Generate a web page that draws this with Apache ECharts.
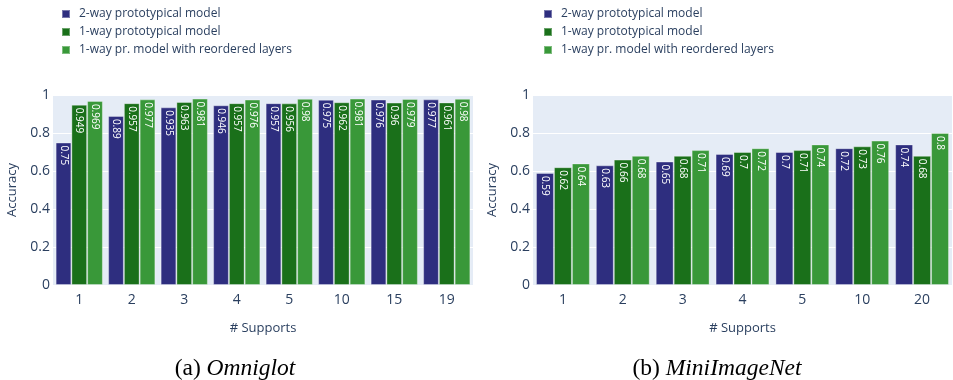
<!DOCTYPE html>
<html>
<head>
<meta charset="utf-8">
<script src="https://cdn.jsdelivr.net/npm/echarts@6/dist/echarts.min.js"></script>
<style>
  html, body { margin: 0; padding: 0; background: #fff; }
  #chart { width: 953px; height: 380px; }
</style>
</head>
<body>
<div id="chart"></div>
<script>
// Series names
const seriesNames = ['2-way prototypical model', '1-way prototypical model', '1-way pr. model with reordered layers'];

// Omniglot: accuracy by number of supports
const omniCategories = ['1', '2', '3', '4', '5', '10', '15', '19'];
const omniTwoWay = [0.75, 0.89, 0.935, 0.946, 0.957, 0.975, 0.976, 0.977];
const omniOneWay = [0.949, 0.957, 0.963, 0.957, 0.956, 0.962, 0.96, 0.961];
const omniReordered = [0.969, 0.977, 0.981, 0.976, 0.98, 0.981, 0.979, 0.98];

// MiniImageNet: accuracy by number of supports
const miniCategories = ['1', '2', '3', '4', '5', '10', '20'];
const miniTwoWay = [0.59, 0.63, 0.65, 0.69, 0.7, 0.72, 0.74];
const miniOneWay = [0.62, 0.66, 0.68, 0.7, 0.71, 0.73, 0.68];
const miniReordered = [0.64, 0.68, 0.71, 0.72, 0.74, 0.76, 0.8];

const colors = ['#2e2e7f', '#1a701a', '#399839'];
const textColor = '#2a3f5f';
const font = '"Open Sans", "Noto Sans", sans-serif';
const serif = '"Liberation Serif", "Times New Roman", serif';

const chart = echarts.init(document.getElementById('chart'), null, { renderer: 'canvas' });

function makeLegend(left) {
  return {
    left: left, top: 0, orient: 'vertical',
    icon: 'rect', itemWidth: 8, itemHeight: 8, itemGap: 0,
    data: seriesNames,
    textStyle: { color: textColor, fontSize: 12, fontFamily: font, lineHeight: 18, padding: [0, 0, 0, 4] }
  };
}

function makeX(gridIndex, cats) {
  return {
    type: 'category', gridIndex: gridIndex, data: cats,
    name: '# Supports', nameLocation: 'middle', nameGap: 37,
    nameTextStyle: { color: textColor, fontSize: 13, fontFamily: font },
    axisLine: { show: false }, axisTick: { show: false },
    axisLabel: { color: textColor, fontSize: 14, fontFamily: font, margin: 8 },
    splitLine: { show: false }
  };
}

function makeY(gridIndex) {
  return {
    type: 'value', gridIndex: gridIndex, min: 0, max: 1, interval: 0.2,
    name: 'Accuracy', nameLocation: 'middle', nameGap: 34,
    nameTextStyle: { color: textColor, fontSize: 13, fontFamily: font },
    axisLine: { show: false }, axisTick: { show: false },
    axisLabel: { color: textColor, fontSize: 14, fontFamily: font, margin: 3,
      formatter: v => String(Math.round(v * 10) / 10) },
    splitLine: { show: true, lineStyle: { color: '#ffffff', width: 1 } }
  };
}

function makeBar(i, idx, values) {
  return {
    type: 'bar', name: seriesNames[i], xAxisIndex: idx, yAxisIndex: idx,
    data: values, barGap: '0%', barCategoryGap: '10%',
    itemStyle: { color: colors[i], borderColor: 'rgba(255,255,255,0.35)', borderWidth: 1 },
    label: {
      show: true, position: 'insideTop', rotate: -90, align: 'left', verticalAlign: 'middle',
      distance: 3, color: '#ffffff', fontSize: 10, fontFamily: font,
      formatter: p => String(p.value)
    }
  };
}

function caption(prefix, name, x) {
  return {
    text: '{n|' + prefix + ' }{i|' + name + '}', left: x, top: 352, textAlign: 'center',
    textStyle: { fontWeight: 'normal', rich: {
      n: { fontFamily: serif, fontSize: 23.5, fontWeight: 'normal', color: '#000' },
      i: { fontFamily: serif, fontSize: 23.5, fontWeight: 'normal', fontStyle: 'italic', color: '#000' } } }
  };
}

chart.setOption({
  animation: false,
  backgroundColor: '#ffffff',
  color: colors,
  legend: [makeLegend(56), makeLegend(538)],
  grid: [
    { left: 53, right: 480, top: 95, bottom: 95, show: true, backgroundColor: '#e5ecf6', borderWidth: 0 },
    { left: 533, right: 1, top: 95, bottom: 95, show: true, backgroundColor: '#e5ecf6', borderWidth: 0 }
  ],
  xAxis: [makeX(0, omniCategories), makeX(1, miniCategories)],
  yAxis: [makeY(0), makeY(1)],
  title: [caption('(a)', 'Omniglot', 230), caption('(b)', 'MiniImageNet', 712)],
  series: [
    makeBar(0, 0, omniTwoWay), makeBar(1, 0, omniOneWay), makeBar(2, 0, omniReordered),
    makeBar(0, 1, miniTwoWay), makeBar(1, 1, miniOneWay), makeBar(2, 1, miniReordered)
  ]
});
</script>
</body>
</html>
